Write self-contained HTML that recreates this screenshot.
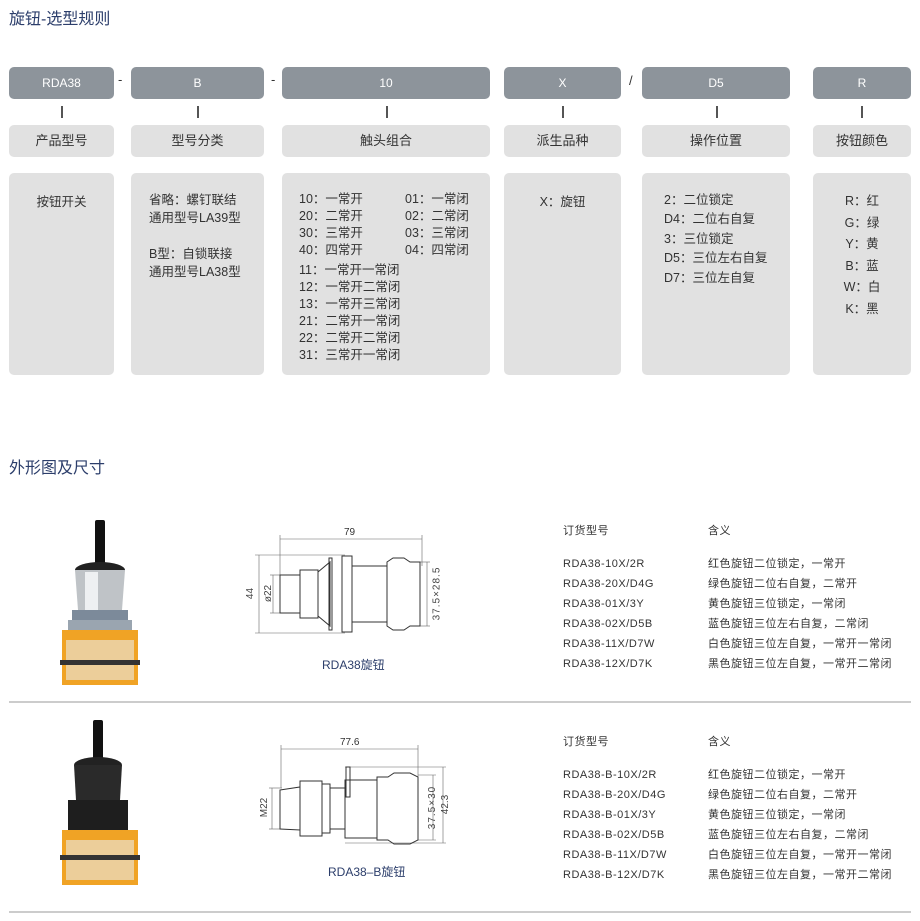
<!DOCTYPE html>
<html><head><meta charset="utf-8"><style>
*{margin:0;padding:0;box-sizing:border-box}
body{width:920px;height:921px;background:#fff;position:relative;font-family:"Liberation Sans","Noto Sans CJK SC",sans-serif;color:#444;overflow:hidden}
.a{position:absolute}
.h{font-size:16px;color:#2c3e6b}
.d{background:#8d949b;color:#fff;font-size:12px;text-align:center;line-height:32px;border-radius:5px;height:32px;top:67px}
.l{background:#e1e1e1;color:#333;font-size:13px;text-align:center;line-height:32px;border-radius:5px;height:32px;top:125px}
.b{background:#e1e1e1;color:#333;font-size:12.5px;border-radius:5px;height:202px;top:173px}
.t{position:absolute;width:2px;height:12px;background:#555;top:106px}
.s{font-size:13px;color:#333}
.tb{font-size:11px;color:#333;letter-spacing:0.5px;line-height:20px}
</style></head><body>
<div class="a h" style="left:9px;top:5px">旋钮-选型规则</div>

<div class="a d" style="left:9px;width:105px">RDA38</div>
<div class="a d" style="left:131px;width:133px">B</div>
<div class="a d" style="left:282px;width:208px">10</div>
<div class="a d" style="left:504px;width:117px">X</div>
<div class="a d" style="left:642px;width:148px">D5</div>
<div class="a d" style="left:813px;width:98px">R</div>
<div class="a s" style="left:118px;top:72px">-</div>
<div class="a s" style="left:271px;top:72px">-</div>
<div class="a s" style="left:629px;top:73px">/</div>

<div class="t" style="left:61px"></div><div class="t" style="left:197px"></div><div class="t" style="left:386px"></div><div class="t" style="left:562px"></div><div class="t" style="left:716px"></div><div class="t" style="left:861px"></div>

<div class="a l" style="left:9px;width:105px">产品型号</div>
<div class="a l" style="left:131px;width:133px">型号分类</div>
<div class="a l" style="left:282px;width:208px">触头组合</div>
<div class="a l" style="left:504px;width:117px">派生品种</div>
<div class="a l" style="left:642px;width:148px">操作位置</div>
<div class="a l" style="left:813px;width:98px">按钮颜色</div>

<div class="a b" style="left:9px;width:105px;text-align:center;padding-top:18px">按钮开关</div>
<div class="a b" style="left:131px;width:133px;padding:18px 0 0 18px;line-height:18px">省略：螺钉联结<br>通用型号LA39型<br><br>B型：自锁联接<br>通用型号LA38型</div>
<div class="a b" style="left:282px;width:208px;padding:18px 0 0 17px;line-height:17px">
<div style="position:absolute;left:17px;top:18px">10：一常开<br>20：二常开<br>30：三常开<br>40：四常开</div>
<div style="position:absolute;left:123px;top:18px">01：一常闭<br>02：二常闭<br>03：三常闭<br>04：四常闭</div>
<div style="position:absolute;left:17px;top:89px">11：一常开一常闭<br>12：一常开二常闭<br>13：一常开三常闭<br>21：二常开一常闭<br>22：二常开二常闭<br>31：三常开一常闭</div>
</div>
<div class="a b" style="left:504px;width:117px;text-align:center;padding-top:18px">X：旋钮</div>
<div class="a b" style="left:642px;width:148px;padding:18px 0 0 22px;line-height:19.4px">2：二位锁定<br>D4：二位右自复<br>3：三位锁定<br>D5：三位左右自复<br>D7：三位左自复</div>
<div class="a b" style="left:813px;width:98px;text-align:center;padding-top:18px;line-height:21.6px">R：红<br>G：绿<br>Y：黄<br>B：蓝<br>W：白<br>K：黑</div>

<div class="a h" style="left:9px;top:454px">外形图及尺寸</div>

<svg class="a" style="left:40px;top:510px" width="130" height="390">
<rect x="55" y="10" width="10" height="45" rx="2" fill="#111"/>
<ellipse cx="60" cy="60" rx="25" ry="8" fill="#222"/>
<path d="M35 60 L85 60 L82 100 L38 100Z" fill="#bfc3c7"/>
<rect x="45" y="62" width="13" height="38" fill="#eef0f2"/>
<rect x="32" y="100" width="56" height="20" fill="#7c8a9a"/>
<rect x="28" y="110" width="64" height="10" fill="#9aa5b0"/>
<rect x="22" y="120" width="76" height="55" fill="#f0a325"/>
<rect x="26" y="130" width="68" height="40" fill="#e9dfcc" opacity="0.7"/>
<rect x="20" y="150" width="80" height="5" fill="#333"/>
<rect x="53" y="210" width="10" height="40" rx="2" fill="#111"/>
<ellipse cx="58" cy="255" rx="24" ry="8" fill="#222"/>
<path d="M34 255 L82 255 L80 290 L36 290Z" fill="#2a2a2a"/>
<rect x="28" y="290" width="60" height="30" fill="#1e1e1e"/>
<rect x="22" y="320" width="76" height="55" fill="#f0a325"/>
<rect x="26" y="330" width="68" height="40" fill="#e9dfcc" opacity="0.7"/>
<rect x="20" y="345" width="80" height="5" fill="#333"/>
</svg>

<svg class="a" style="left:0;top:0" width="920" height="921" fill="none" stroke="#333" stroke-width="1">
<g stroke-width="0.6" stroke="#666"><line x1="280" y1="539" x2="422" y2="539"/><line x1="280" y1="535" x2="280" y2="575"/><line x1="422" y1="535" x2="422" y2="566"/>
<line x1="259" y1="555" x2="259" y2="633"/><line x1="255" y1="555" x2="345" y2="555"/><line x1="255" y1="633" x2="345" y2="633"/>
<line x1="273" y1="575" x2="273" y2="613"/><line x1="270" y1="575" x2="282" y2="575"/><line x1="270" y1="613" x2="282" y2="613"/>
<line x1="427" y1="562" x2="427" y2="626"/><line x1="420" y1="562" x2="430" y2="562"/><line x1="420" y1="626" x2="430" y2="626"/></g>
<rect x="280" y="575" width="20" height="38"/><rect x="300" y="570" width="18" height="48"/><path d="M318 572 L330 562 L330 626 L318 616Z"/>
<rect x="329" y="558" width="3" height="72"/><rect x="342" y="556" width="10" height="76"/>
<rect x="352" y="566" width="35" height="56"/><path d="M387 562 L393 558 L404 558 L410 562 L420 562 L420 626 L410 626 L404 630 L393 630 L387 626Z"/>

<g stroke-width="0.6" stroke="#666"><line x1="281" y1="749" x2="418" y2="749"/><line x1="281" y1="745" x2="281" y2="788"/><line x1="418" y1="745" x2="418" y2="777"/>
<line x1="272" y1="788" x2="272" y2="829"/><line x1="269" y1="788" x2="282" y2="788"/><line x1="269" y1="829" x2="282" y2="829"/>
<line x1="433" y1="775" x2="433" y2="840"/><line x1="418" y1="775" x2="436" y2="775"/><line x1="418" y1="840" x2="436" y2="840"/>
<line x1="443" y1="767" x2="443" y2="843"/><line x1="345" y1="767" x2="446" y2="767"/><line x1="345" y1="843" x2="446" y2="843"/></g>
<path d="M280 790 L300 787 L300 830 L280 829Z"/><rect x="300" y="781" width="22" height="55"/><rect x="322" y="784" width="8" height="49"/><rect x="330" y="788" width="15" height="41"/>
<rect x="346" y="767" width="4" height="30"/><rect x="345" y="780" width="32" height="58"/><path d="M377 777 L388 777 L394 773 L410 773 L418 777 L418 840 L410 844 L394 844 L388 840 L377 840Z"/>

<line x1="9" y1="702" x2="911" y2="702" stroke="#999"/>
<line x1="9" y1="912" x2="911" y2="912" stroke="#999"/>
</svg>
<div class="a" style="left:344px;top:527px;font-size:10px;color:#333">79</div>
<div class="a" style="left:245px;top:588px;font-size:10px;transform:rotate(-90deg)">44</div>
<div class="a" style="left:260px;top:588px;font-size:10px;transform:rotate(-90deg)">ø22</div>
<div class="a" style="left:410px;top:588px;font-size:10px;transform:rotate(-90deg);letter-spacing:1px">37.5×28.5</div>
<div class="a" style="left:322px;top:656px;font-size:12px;color:#2c3e6b">RDA38旋钮</div>

<div class="a" style="left:340px;top:737px;font-size:10px;color:#333">77.6</div>
<div class="a" style="left:255px;top:802px;font-size:10px;transform:rotate(-90deg)">M22</div>
<div class="a" style="left:411px;top:802px;font-size:10px;transform:rotate(-90deg);letter-spacing:1px">37.5×30</div>
<div class="a" style="left:436px;top:799px;font-size:10px;transform:rotate(-90deg)">42.3</div>
<div class="a" style="left:328px;top:863px;font-size:12px;color:#2c3e6b">RDA38–B旋钮</div>

<div class="a tb" style="left:563px;top:521px">订货型号</div>
<div class="a tb" style="left:708px;top:521px">含义</div>
<div class="a tb" style="left:563px;top:554px">RDA38-10X/2R<br>RDA38-20X/D4G<br>RDA38-01X/3Y<br>RDA38-02X/D5B<br>RDA38-11X/D7W<br>RDA38-12X/D7K</div>
<div class="a tb" style="left:708px;top:554px">红色旋钮二位锁定，一常开<br>绿色旋钮二位右自复，二常开<br>黄色旋钮三位锁定，一常闭<br>蓝色旋钮三位左右自复，二常闭<br>白色旋钮三位左自复，一常开一常闭<br>黑色旋钮三位左自复，一常开二常闭</div>

<div class="a tb" style="left:563px;top:732px">订货型号</div>
<div class="a tb" style="left:708px;top:732px">含义</div>
<div class="a tb" style="left:563px;top:765px">RDA38-B-10X/2R<br>RDA38-B-20X/D4G<br>RDA38-B-01X/3Y<br>RDA38-B-02X/D5B<br>RDA38-B-11X/D7W<br>RDA38-B-12X/D7K</div>
<div class="a tb" style="left:708px;top:765px">红色旋钮二位锁定，一常开<br>绿色旋钮二位右自复，二常开<br>黄色旋钮三位锁定，一常闭<br>蓝色旋钮三位左右自复，二常闭<br>白色旋钮三位左自复，一常开一常闭<br>黑色旋钮三位左自复，一常开二常闭</div>
</body></html>
